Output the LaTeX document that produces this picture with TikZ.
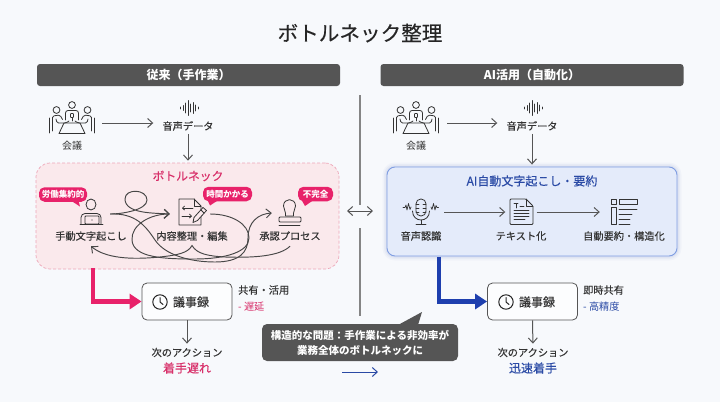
\documentclass[tikz,border=0pt]{standalone}
\usepackage{fontspec}
\usetikzlibrary{arrows.meta,calc}
\newfontfamily\jp{Noto Sans CJK JP}
\newfontfamily\jpm[FakeBold=0.3]{Noto Sans CJK JP}
\definecolor{bgc}{HTML}{F7F9FC}
\definecolor{hdr}{HTML}{555555}
\definecolor{ink}{HTML}{333333}
\definecolor{arrc}{HTML}{555555}
\definecolor{pk}{HTML}{E8226A}
\definecolor{pkt}{HTML}{D8306A}
\definecolor{pkfill}{HTML}{FAE9EC}
\definecolor{pkline}{HTML}{EDA6B8}
\definecolor{bl}{HTML}{1E3FAE}
\definecolor{blt}{HTML}{2A4AA5}
\definecolor{blfill}{HTML}{E4EBFA}
\definecolor{blline}{HTML}{7F9DE2}
\tikzset{
  lbl/.style={inner sep=0pt,text=ink,font=\jpm\fontsize{10.2}{12}\selectfont},
  hdrbox/.style={fill=hdr,rounded corners=3pt,inner sep=0pt,minimum width=303pt,minimum height=22pt,text=white,font=\jp\bfseries\fontsize{12}{14}\selectfont},
  badge/.style={fill=pk,rounded corners=5.5pt,inner sep=0pt,minimum height=14.5pt,text=white,font=\jp\bfseries\fontsize{8.5}{10}\selectfont},
  ghost/.style={inner sep=0pt,minimum width=#1,minimum height=20pt},
  recbox/.style={draw=arrc,line width=.8pt,fill=bgc!40!white,rounded corners=5pt,minimum width=90pt,minimum height=37pt,inner sep=0pt},
  arr/.style={draw=arrc,line width=1pt,-{Straight Barb[length=5pt,width=9pt,line width=1pt]}},
  tangle/.style={draw=ink!90,line width=.95pt,-{Straight Barb[length=5pt,width=9pt,line width=.95pt]}},
  fat/.style={line width=4.5pt,line join=miter,-{Triangle[length=12pt,width=15pt]}},
  icon/.style={draw=ink,line width=.8pt,line cap=round,line join=round},
}
\newcommand\iconMeeting[1]{\begin{scope}[shift={(#1)},icon]
  \draw (0,-13) circle (3.4);
  \draw (-15.5,-8) circle (3.4);
  \draw (15.5,-8) circle (3.4);
  \draw[rounded corners=2.5pt] (-6.5,2) -- (-6.5,-7.5) -- (6.5,-7.5) -- (6.5,2);
  \draw[rounded corners=.6pt] (-1.5,-4.5) rectangle (1.5,-.5);
  \draw (0,-.5) -- (0,3);
  \draw (-8,5) -- (8,5) -- (13,15.5) -- (-13,15.5) -- cycle;
  \draw[rounded corners=1.5pt] (-19.5,13) -- (-19.5,-2) -- (-12,-3) -- (-9.5,1.5);
  \draw[rounded corners=1.5pt] (-16,1) -- (-15,5) -- (-6,5) -- (-3,3);
  \draw[rounded corners=1.5pt] (19.5,13) -- (19.5,-2) -- (12,-3) -- (9.5,1.5);
  \draw[rounded corners=1.5pt] (16,1) -- (15,5) -- (6,5) -- (3,3);
  \draw (-22.5,0) -- (-22.5,15);
  \draw (22.5,0) -- (22.5,15);
\end{scope}}
\newcommand\iconWave[1]{\begin{scope}[shift={(#1)},icon]
  \foreach \xx/\hh in {-7.5/1,-5/2.5,-2.5/5,0/7.5,2.5/4,5/5.5,7.5/3,10/1}{\draw (\xx,-\hh) -- (\xx,\hh);}
\end{scope}}
\newcommand\iconClock[1]{\begin{scope}[shift={(#1)},draw=black!85,line width=1pt,line cap=round]
  \draw (0,0) circle (7.2);
  \draw (0,-4.5) -- (0,0) -- (3,2.5);
\end{scope}}
\begin{document}
\begin{tikzpicture}[x=1pt,y=-1pt]
\useasboundingbox (0,0) rectangle (720,402);
\fill[bgc] (0,0) rectangle (720,402);
% title
\node[inner sep=0pt,text=black!85,font=\jpm\fontsize{20.6}{24}\selectfont] (title) at (360,33) {ボトルネック整理};
% headers
\node[hdrbox] (hL) at (188.5,75) {従来（手作業）};
\node[hdrbox] (hR) at (532,75) {AI活用（自動化）};
% divider
\draw[line width=1.2pt,draw=black!48] (360,95) coordinate (dtop) -- (360,205) coordinate (dmid);
\coordinate (dlow) at (360,228); \coordinate (dbot) at (360,316);
\draw[line width=1.2pt,draw=black!48] (dlow) -- (dbot);
\coordinate (swL) at (347,211); \coordinate (swR) at (373,211);
\draw[draw=arrc,line width=1pt,{Straight Barb[length=5pt,width=9pt,line width=1pt]}-{Straight Barb[length=5pt,width=9pt,line width=1pt]}] (swL) -- (swR);

% ===== left panel boxes =====
\node[draw=pkline,densely dashed,line width=.7pt,fill=pkfill,rounded corners=14pt,minimum width=303pt,minimum height=106pt,inner sep=0pt] (bn) at (187.5,216) {};
% fat pink connector
\node[recbox] (recL) at (187,301.5) {};
\draw[pk,fat] (93,268) coordinate (pkstart) |- (recL.west);
\node[lbl,font=\jpm\fontsize{12}{14}\selectfont] (recLt) at (191,302) {議事録};
\iconClock{160,302}

% top row left
\iconMeeting{72,118}
\node[ghost=60pt] (m1) at (72,123) {};
\node[lbl,font=\jp\fontsize{10}{12}\selectfont] (m1t) at (72,146) {会議};
\iconWave{188,108}
\node[lbl] (v1) at (188,126) {音声データ};
\draw[arr,shorten >=9pt] (m1.east) -- (m1.east -| v1.west);
\draw[arr,shorten <=3pt,shorten >=2pt] (v1.south) -- (bn.north -| v1.south);

% bottleneck contents
\node[inner sep=0pt,text=pkt,font=\jpm\fontsize{11.8}{14}\selectfont] (bnt) at (188,176) {ボトルネック};
\node[lbl,ghost=70pt] (l1) at (91,236) {手動文字起こし};
\node[lbl,ghost=70pt] (l2) at (192,236) {内容整理・編集};
\node[lbl,ghost=60pt] (l3) at (290,236) {承認プロセス};
\node[ghost=38pt] (pers) at (91,214) {};
\node[ghost=40pt] (docn) at (190,214) {};
\node[ghost=36pt] (stmp) at (290,213) {};
% tangled connectors
\draw[tangle] (pers.east) .. controls (122,214) and (147,210) .. (147,200) .. controls (147,189) and (125,188) .. (125,199) .. controls (125,214) and (155,213) .. (docn.west);
\draw[tangle] (pers.east) .. controls (135,213) and (145,225) .. (155,240) .. controls (165,255) and (190,262) .. (215,262) .. controls (240,262) and (248,252) .. (248,238) .. controls (248,222) and (258,214) .. (stmp.west);
\draw[tangle] (docn.east) .. controls (232,214) and (249,224) .. (249,238) .. controls (249,252) and (225,259) .. (195,259) .. controls (165,259) and (133,258) .. (132,240) .. controls (131,225) and (150,214) .. (docn.west);
\draw[tangle] (l3.south) .. controls (280,256) and (255,258) .. (225,257) .. controls (208,256) and (197,254) .. (192,245.5) .. controls (188,253) and (178,255) .. (160,257) .. controls (130,260) and (105,258) .. (l1.south);
% person
\begin{scope}[icon]
  \draw (91,204.5) ellipse (5 and 5.5);
  \draw[rounded corners=4pt] (81,224) -- (81,213.5) -- (101,213.5) -- (101,224);
  \draw[fill=pkfill,rounded corners=.8pt] (85,216) rectangle (99,224);
  \fill[ink] (92,220) circle (.6);
  \draw (80,224.5) -- (103,224.5);
\end{scope}
% doc with pencil
\begin{scope}[icon]
  \draw (179,199) -- (194,199) -- (201,206) -- (201,225) -- (179,225) -- cycle;
  \draw (194,199) -- (194,206) -- (201,206);
  \draw[-{Straight Barb[length=2pt,width=4pt]}] (193,208) -- (182,208);
  \draw[-{Straight Barb[length=2pt,width=4pt]}] (182,216) -- (192,216);
  \draw[fill=pkfill] (193,222.5) -- (194,217.5) -- (203,207.5) -- (206.5,210.5) -- (197.5,220.5) -- cycle;
  \draw (201,210) -- (204,213);
\end{scope}
% stamp
\begin{scope}[icon]
  \draw (285.5,216) .. controls (286,211) and (283.5,209) .. (283.5,206) .. controls (283.5,197.5) and (295.5,197.5) .. (295.5,206) .. controls (295.5,209) and (293,211) .. (293.5,216) -- cycle;
  \draw[fill=pkfill,rounded corners=1pt] (279,217) rectangle (301,222);
  \draw (279,225) -- (300,225);
\end{scope}
% badges
\fill[pk] (70,200) -- (80,206.5) -- (78,199) -- cycle;
\node[badge,minimum width=48pt] (b1) at (63,194.5) {労働集約的};
\fill[pk] (207,199) -- (210,205.5) -- (220,199) -- cycle;
\node[badge,minimum width=49pt] (b2) at (227.5,194) {時間かかる};
\fill[pk] (301,199) -- (305,206) -- (315,199) -- cycle;
\node[badge,minimum width=35pt] (b3) at (315.5,194) {不完全};

% below left
\node[lbl,anchor=west] (sL1) at (238,290) {共有・活用};
\node[inner sep=0pt,anchor=west,text=pkt,font=\jp\fontsize{10.2}{12}\selectfont] (sL2) at (238,307) {- 遅延};
\node[lbl] (nL) at (187,352.5) {次のアクション};
\draw[arr,shorten >=4pt] (recL.south) -- (nL.north);
\node[inner sep=0pt,text=pkt,font=\jpm\fontsize{12}{14}\selectfont] (rL) at (187,368) {着手遅れ};

% ===== right panel =====
\iconMeeting{416,118}
\node[ghost=62pt] (m2) at (416,123) {};
\node[lbl,font=\jp\fontsize{10}{12}\selectfont] (m2t) at (416,146) {会議};
\iconWave{532,108}
\node[lbl] (v2) at (532,126) {音声データ};
\draw[arr,shorten >=9pt] (m2.east) -- (m2.east -| v2.west);
% glow
\foreach \gw/\op in {9/.05,6/.07,3/.1}{\draw[bl!60!white,line width=\gw pt,opacity=\op,rounded corners=8pt] (387,167) rectangle (677,256);}
\node[draw=blline,line width=.9pt,fill=blfill,rounded corners=8pt,minimum width=290pt,minimum height=89pt,inner sep=0pt] (ai) at (532,211.5) {};
\draw[arr,shorten <=3pt,shorten >=2pt] (v2.south) -- (ai.north -| v2.south);
\node[inner sep=0pt,text=blt,font=\jpm\fontsize{12}{14}\selectfont] (ait) at (532,181) {AI自動文字起こし・要約};
\node[lbl] (a1) at (421,236) {音声認識};
\node[lbl] (a2) at (521,236) {テキスト化};
\node[lbl] (a3) at (624,236) {自動要約・構造化};
\node[ghost=46pt] (micn) at (421,212) {};
\node[ghost=31pt] (dcn) at (521,212) {};
\node[ghost=20pt] (lsn) at (610,212) {};
\draw[arr] (micn.east) -- (dcn.west);
\draw[arr] (dcn.east) -- (lsn.west);
% mic
\begin{scope}[icon]
  \draw[rounded corners=4.8pt] (416,199) rectangle (426,216);
  \draw (416,204) -- (419,204) (416,208) -- (419,208) (416,212) -- (419,212);
  \draw (423,204) -- (426,204) (423,208) -- (426,208) (423,212) -- (426,212);
  \draw (412.5,211) .. controls (412.5,223) and (429.5,223) .. (429.5,211);
  \draw (421,220) -- (421,224) (416,224.5) -- (426,224.5);
  \draw[line width=.7pt] (403,207.5) -- (405,207.5) -- (406,205) -- (407,210) -- (408.5,203.5) -- (410,209.5) -- (411,207);
  \draw[line width=.7pt] (431,207) -- (432,209.5) -- (433.5,203.5) -- (435,210) -- (436,205.5) -- (437,207.5) -- (438.5,207.5);
\end{scope}
% doc T
\begin{scope}[icon]
  \draw[rounded corners=1pt] (510,199) -- (526,199) -- (533,206) -- (533,224.5) -- (510,224.5) -- cycle;
  \draw (526,199) -- (526,206) -- (533,206);
  \draw (514,203.5) -- (518,203.5) (516,203.5) -- (516,208);
  \draw (520,206) -- (524,206);
  \draw (514,210.5) -- (529,210.5) (514,213.5) -- (529,213.5) (514,216.5) -- (529,216.5) (514,219.5) -- (525,219.5);
\end{scope}
% list
\begin{scope}[icon]
  \draw (611,199.5) rectangle (616,204.5);
  \draw (611,207) rectangle (616,224.5);
  \draw (619,199.5) rectangle (637,204.5);
  \draw (619,209.5) -- (637,209.5) (619,214) -- (632,214) (619,219) -- (630,219) (619,224) -- (630,224);
\end{scope}
% below right
\node[recbox] (recR) at (532.5,301.5) {};
\draw[bl,fat] (439,256.5) coordinate (blstart) |- (recR.west);
\node[lbl,font=\jpm\fontsize{12}{14}\selectfont] (recRt) at (537,302) {議事録};
\iconClock{506,302}
\node[lbl,anchor=west] (sR1) at (583,290) {即時共有};
\node[inner sep=0pt,anchor=west,text=blt,font=\jp\fontsize{10.2}{12}\selectfont] (sR2) at (583,307) {- 高精度};
\node[lbl] (nR) at (533,352.5) {次のアクション};
\draw[arr,shorten >=4pt] (recR.south) -- (nR.north);
\node[inner sep=0pt,text=blt,font=\jpm\fontsize{12}{14}\selectfont] (rR) at (533,368) {迅速着手};

% callout
\fill[hdr] (398,325) -- (422,312) -- (418,325) -- cycle;
\node[fill=hdr,rounded corners=5pt,minimum width=196pt,minimum height=37pt,inner sep=0pt,align=center,text=white,font=\jp\bfseries\fontsize{10.5}{15}\selectfont] (call) at (360,342.5) {構造的な問題：手作業による非効率が\\業務全体のボトルネックに};
\coordinate (smallA) at (342,372); \coordinate (smallB) at (378,372);
\draw[draw=blt,line width=1pt,-{Straight Barb[length=5pt,width=9pt,line width=1pt]}] (smallA) -- (smallB);
\end{tikzpicture}
\end{document}
